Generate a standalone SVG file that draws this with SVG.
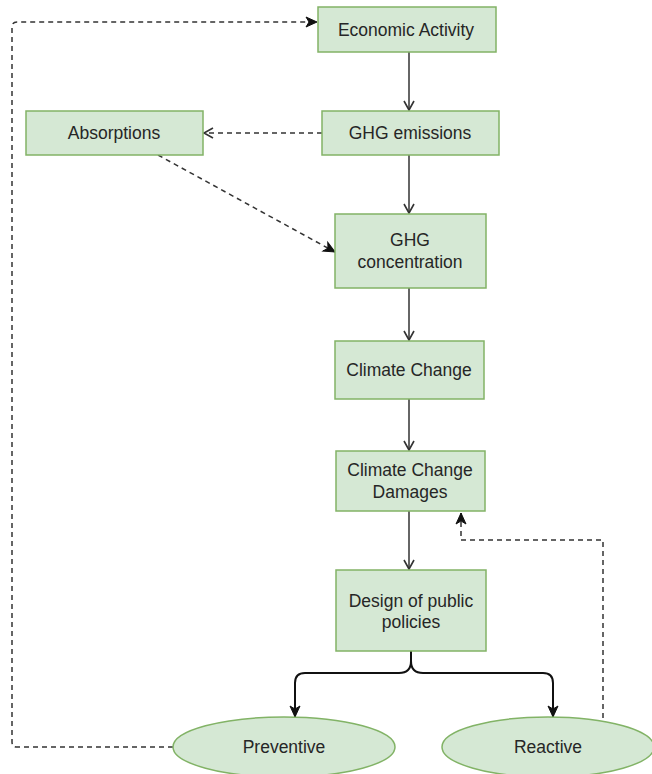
<svg xmlns="http://www.w3.org/2000/svg" width="652" height="774" viewBox="0 0 652 774">
<style>
.box{fill:#d5e8d4;stroke:#82b366;stroke-width:1.5}
.t{font-family:"Liberation Sans",Arial,sans-serif;font-size:17.5px;fill:#262626;text-anchor:middle}
.ln{fill:none;stroke:#333;stroke-width:1.5}
.dash{stroke-dasharray:5 4}
.thick{stroke:#111;stroke-width:2}
</style>
<defs>
<marker id="open" markerUnits="userSpaceOnUse" markerWidth="14" markerHeight="14" viewBox="-10 -7 12 14" refX="0" refY="0" orient="auto" overflow="visible">
<path d="M-9,-5 L0,0 L-9,5" fill="none" stroke="#333" stroke-width="1.6"/>
</marker>
<marker id="fill" markerUnits="userSpaceOnUse" markerWidth="14" markerHeight="14" viewBox="-12 -7 14 14" refX="0" refY="0" orient="auto" overflow="visible">
<path d="M-11,-5 L0,0 L-11,5 L-8,0 Z" fill="#111" stroke="#111" stroke-width="1"/>
</marker>
</defs>
<g id="connectors">
<path class="ln" d="M409,52 L409,110" marker-end="url(#open)"/>
<path class="ln dash" d="M322,133 L204,133" marker-end="url(#open)"/>
<path class="ln" d="M409,155 L409,213" marker-end="url(#open)"/>
<path class="ln dash" d="M158,155 L335,252" marker-end="url(#fill)"/>
<path class="ln" d="M409,288 L409,340" marker-end="url(#open)"/>
<path class="ln" d="M409,399 L409,450" marker-end="url(#open)"/>
<path class="ln" d="M409,511 L409,569" marker-end="url(#open)"/>
<path class="ln thick" d="M411,651 L411,661 Q411,673 399,673 L305,673 Q295,673 295,683 L295,717" marker-end="url(#fill)"/>
<path class="ln thick" d="M411,661 Q411,673 423,673 L543,673 Q553,673 553,683 L553,717" marker-end="url(#fill)"/>
<path class="ln dash" d="M603,718 L603,540 L461,540 L461,513" marker-end="url(#fill)"/>
<path class="ln dash" d="M173,747 L17,747 Q12,747 12,742 L12,27 Q12,22 17,22 L317,22" marker-end="url(#fill)"/>
</g>
<g id="economic-activity"><rect class="box" x="318" y="7" width="178" height="45"/><text class="t" x="406" y="36">Economic Activity</text></g>
<g id="ghg-emissions"><rect class="box" x="322" y="111" width="177" height="44"/><text class="t" x="410" y="139">GHG emissions</text></g>
<g id="absorptions"><rect class="box" x="26" y="111" width="177" height="44"/><text class="t" x="114" y="139">Absorptions</text></g>
<g id="ghg-concentration"><rect class="box" x="335" y="214" width="151" height="74"/><text class="t" x="410" y="246">GHG</text><text class="t" x="410" y="268">concentration</text></g>
<g id="climate-change"><rect class="box" x="335" y="341" width="149" height="58"/><text class="t" x="409" y="376">Climate Change</text></g>
<g id="climate-change-damages"><rect class="box" x="336" y="451" width="149" height="60"/><text class="t" x="410" y="476">Climate Change</text><text class="t" x="410" y="498">Damages</text></g>
<g id="design-policies"><rect class="box" x="336" y="570" width="150" height="81"/><text class="t" x="411" y="607">Design of public</text><text class="t" x="411" y="628">policies</text></g>
<g id="preventive"><ellipse class="box" cx="284" cy="747" rx="111" ry="30"/><text class="t" x="284" y="753">Preventive</text></g>
<g id="reactive"><ellipse class="box" cx="548" cy="747" rx="106" ry="30"/><text class="t" x="548" y="753">Reactive</text></g>
</svg>
